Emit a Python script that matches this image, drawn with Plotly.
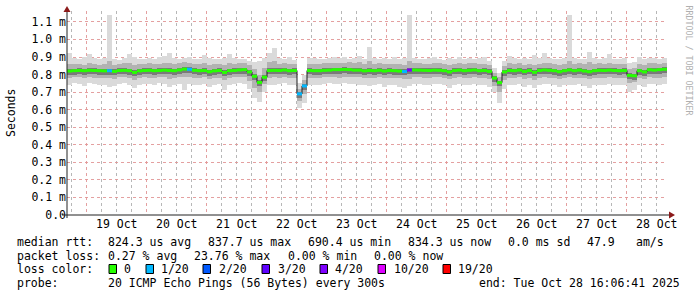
import numpy as np
import pandas as pd
import plotly.graph_objects as go

# ---------------- data (2-hour bins, values in ms) ----------------
end_time = pd.Timestamp("2025-10-28 16:06:41")
start_time = end_time - pd.Timedelta(days=10)

median_ms = [
    0.820, 0.822, 0.823, 0.822, 0.824, 0.823, 0.822, 0.821, 0.822, 0.818,
    0.823, 0.824, 0.822, 0.812, 0.821, 0.823, 0.824, 0.822, 0.823, 0.825,
    0.823, 0.822, 0.826, 0.831, 0.830, 0.824, 0.822, 0.823, 0.816, 0.821,
    0.823, 0.812, 0.822, 0.823, 0.826, 0.828, 0.815, 0.790, 0.755, 0.785,
    0.823, 0.824, 0.823, 0.826, 0.822, 0.823, 0.690, 0.735, 0.823, 0.822,
    0.822, 0.824, 0.825, 0.828, 0.828, 0.829, 0.828, 0.825, 0.825, 0.821,
    0.823, 0.822, 0.824, 0.820, 0.823, 0.822, 0.820, 0.817, 0.826, 0.826,
    0.825, 0.824, 0.823, 0.825, 0.824, 0.822, 0.815, 0.823, 0.825, 0.822,
    0.824, 0.826, 0.822, 0.823, 0.818, 0.780, 0.754, 0.815, 0.823, 0.822,
    0.825, 0.817, 0.823, 0.813, 0.823, 0.826, 0.824, 0.822, 0.816, 0.822,
    0.826, 0.822, 0.825, 0.820, 0.816, 0.822, 0.824, 0.823, 0.825, 0.823,
    0.822, 0.823, 0.795, 0.793, 0.822, 0.815, 0.827, 0.825, 0.828, 0.830,
]

smoke_max = [
    0.920, 0.895, 0.890, 0.900, 0.915, 0.892, 0.888, 0.895, 1.140, 0.890,
    0.885, 0.893, 0.918, 0.900, 0.890, 0.886, 0.895, 0.890, 0.898, 0.905,
    0.925, 0.895, 0.888, 0.892, 0.900, 0.890, 0.887, 0.910, 0.895, 0.890,
    0.888, 0.893, 0.918, 0.895, 0.890, 0.888, 0.880, 0.870, 0.875, 0.895,
    0.920, 0.950, 0.895, 0.890, 0.898, 0.885, 0.750, 0.800, 0.893, 0.895,
    0.890, 0.888, 0.897, 0.900, 0.892, 0.898, 0.890, 0.895, 0.905, 0.890,
    0.955, 0.892, 0.888, 0.895, 0.890, 0.900, 0.887, 0.893, 1.140, 0.895,
    0.890, 0.888, 0.895, 0.902, 0.890, 0.885, 0.893, 0.890, 0.898, 0.888,
    0.895, 0.890, 0.893, 0.900, 0.880, 0.840, 0.810, 0.875, 0.905, 0.892,
    0.890, 0.895, 0.888, 0.910, 0.892, 0.920, 0.895, 0.890, 0.888, 0.893,
    1.140, 0.895, 0.890, 0.888, 0.930, 0.893, 0.890, 0.896, 0.915, 0.890,
    0.888, 0.895, 0.865, 0.870, 0.900, 0.890, 0.895, 0.892, 0.888, 0.893,
]

smoke_hi = [
    0.860, 0.858, 0.862, 0.857, 0.865, 0.860, 0.856, 0.861, 0.880, 0.855,
    0.860, 0.863, 0.866, 0.852, 0.858, 0.861, 0.864, 0.859, 0.862, 0.866,
    0.868, 0.860, 0.864, 0.870, 0.868, 0.862, 0.858, 0.863, 0.855, 0.860,
    0.862, 0.852, 0.864, 0.861, 0.866, 0.868, 0.852, 0.830, 0.800, 0.835,
    0.870, 0.880, 0.862, 0.865, 0.860, 0.862, 0.720, 0.770, 0.862, 0.860,
    0.858, 0.863, 0.866, 0.868, 0.865, 0.867, 0.869, 0.866, 0.870, 0.862,
    0.875, 0.860, 0.863, 0.858, 0.862, 0.860, 0.858, 0.856, 0.880, 0.866,
    0.864, 0.862, 0.861, 0.866, 0.863, 0.860, 0.855, 0.862, 0.865, 0.860,
    0.863, 0.866, 0.860, 0.862, 0.855, 0.810, 0.785, 0.850, 0.863, 0.860,
    0.864, 0.856, 0.862, 0.852, 0.861, 0.868, 0.864, 0.860, 0.855, 0.861,
    0.880, 0.862, 0.865, 0.858, 0.870, 0.861, 0.863, 0.862, 0.866, 0.861,
    0.860, 0.862, 0.832, 0.835, 0.860, 0.856, 0.866, 0.864, 0.860, 0.866,
]

smoke_lo = [
    0.782, 0.786, 0.784, 0.780, 0.785, 0.783, 0.781, 0.779, 0.778, 0.776,
    0.784, 0.786, 0.782, 0.770, 0.780, 0.785, 0.783, 0.781, 0.786, 0.784,
    0.775, 0.780, 0.785, 0.788, 0.786, 0.782, 0.780, 0.784, 0.774, 0.780,
    0.783, 0.770, 0.781, 0.784, 0.786, 0.788, 0.765, 0.725, 0.700, 0.745,
    0.780, 0.784, 0.783, 0.786, 0.781, 0.783, 0.650, 0.690, 0.782, 0.780,
    0.781, 0.784, 0.786, 0.785, 0.783, 0.786, 0.787, 0.785, 0.784, 0.782,
    0.780, 0.781, 0.784, 0.778, 0.782, 0.779, 0.778, 0.772, 0.775, 0.786,
    0.785, 0.783, 0.782, 0.785, 0.784, 0.781, 0.772, 0.782, 0.784, 0.780,
    0.783, 0.786, 0.780, 0.782, 0.774, 0.735, 0.700, 0.770, 0.782, 0.780,
    0.784, 0.774, 0.781, 0.770, 0.782, 0.785, 0.783, 0.780, 0.773, 0.781,
    0.784, 0.780, 0.783, 0.778, 0.772, 0.780, 0.782, 0.781, 0.784, 0.782,
    0.780, 0.781, 0.752, 0.755, 0.780, 0.774, 0.785, 0.783, 0.780, 0.786,
]

smoke_min = [
    0.742, 0.750, 0.748, 0.735, 0.752, 0.745, 0.740, 0.738, 0.728, 0.735,
    0.748, 0.752, 0.740, 0.725, 0.738, 0.748, 0.745, 0.740, 0.750, 0.746,
    0.730, 0.740, 0.748, 0.712, 0.745, 0.742, 0.738, 0.746, 0.730, 0.740,
    0.745, 0.712, 0.740, 0.746, 0.750, 0.748, 0.720, 0.667, 0.645, 0.700,
    0.738, 0.742, 0.748, 0.750, 0.740, 0.742, 0.610, 0.640, 0.742, 0.738,
    0.740, 0.746, 0.752, 0.748, 0.744, 0.750, 0.748, 0.745, 0.742, 0.738,
    0.735, 0.740, 0.746, 0.730, 0.742, 0.738, 0.728, 0.722, 0.735, 0.748,
    0.745, 0.742, 0.738, 0.746, 0.744, 0.740, 0.725, 0.742, 0.745, 0.738,
    0.742, 0.748, 0.738, 0.740, 0.730, 0.700, 0.640, 0.720, 0.742, 0.738,
    0.745, 0.728, 0.740, 0.722, 0.742, 0.746, 0.744, 0.740, 0.730, 0.738,
    0.742, 0.738, 0.744, 0.735, 0.725, 0.738, 0.742, 0.740, 0.745, 0.742,
    0.738, 0.740, 0.700, 0.710, 0.738, 0.728, 0.746, 0.744, 0.738, 0.748,
]

# lost pings (out of 20) per bin
lost_pings = [0] * 120
for idx, n_lost in [(8, 1), (24, 1), (46, 1), (47, 1), (67, 1), (68, 4)]:
    lost_pings[idx] = n_lost

loss_labels = ["0", "1/20", "2/20", "3/20", "4/20", "10/20", "19/20"]
loss_levels = [0, 1, 2, 3, 4, 10, 19]
loss_colors = ["#26ff00", "#00b8ff", "#0059ff", "#5e00ff", "#7e00ff", "#dd00ff", "#ff0000"]

y_tick_vals = [0.0, 0.1, 0.2, 0.3, 0.4, 0.5, 0.6, 0.7, 0.8, 0.9, 1.0, 1.1]
y_tick_text = ["0.0", "0.1 m", "0.2 m", "0.3 m", "0.4 m", "0.5 m", "0.6 m",
               "0.7 m", "0.8 m", "0.9 m", "1.0 m", "1.1 m"]

# ---------------- geometry ----------------
W, H = 697, 297
L, R, T, B = 67, 30, 11, 82
PW, PH = W - L - R, H - T - B
BASE_Y = H - B


def px(x):
    return (x - L) / PW


def py(y):
    return (BASE_Y - y) / PH


FONT = "DejaVu Sans Mono"
FS = 11.5

n = len(median_ms)
bin_ms = 2 * 3600 * 1000
starts = pd.date_range(start_time, periods=n, freq="2h")
ends = starts + pd.Timedelta(hours=2)
centers = starts + pd.Timedelta(hours=1)

med = np.array(median_ms)
smax = np.array(smoke_max)
shi = np.array(smoke_hi)
slo = np.array(smoke_lo)
smin = np.array(smoke_min)


def loss_color(k):
    col = loss_colors[0]
    for lev, c in zip(loss_levels, loss_colors):
        if k >= lev:
            col = c
    return col


med_colors = [loss_color(k) for k in lost_pings]

fig = go.Figure()
fig.add_trace(go.Bar(x=centers, y=smax - smin, base=smin, width=bin_ms,
                     marker=dict(color="#dadada", line=dict(width=0)),
                     showlegend=False, hoverinfo="skip"))
fig.add_trace(go.Bar(x=centers, y=shi - slo, base=slo, width=bin_ms,
                     marker=dict(color="#b2b2b2", line=dict(width=0)),
                     showlegend=False, hoverinfo="skip"))
fig.add_trace(go.Bar(x=centers, y=np.full(n, 0.034), base=med - 0.022, width=bin_ms,
                     marker=dict(color="#7a7a7a", line=dict(width=0)),
                     showlegend=False, hoverinfo="skip"))
# dark stepped median (gives the vertical transitions)
fig.add_trace(go.Scatter(x=list(starts) + [end_time], y=list(med) + [med[-1]],
                         mode="lines", line=dict(color="#1e1e1e", width=1, shape="hv"),
                         showlegend=False, hoverinfo="skip"))
# median segments coloured by packet loss
for col in loss_colors:
    xs, ys = [], []
    for i in range(n):
        if med_colors[i] == col:
            xs += [starts[i], ends[i], None]
            ys += [med[i], med[i], None]
    if xs:
        fig.add_trace(go.Scatter(x=xs, y=ys, mode="lines",
                                 line=dict(color=col, width=3),
                                 showlegend=False, hoverinfo="skip", connectgaps=False))

grid_major = "rgba(225,150,150,0.9)"
grid_minor = "rgba(175,175,175,0.9)"

fig.update_layout(
    width=W, height=H,
    margin=dict(l=L, r=R, t=T, b=B, pad=0),
    paper_bgcolor="white", plot_bgcolor="white",
    barmode="overlay", bargap=0,
    font=dict(family=FONT, size=FS, color="black"),
    showlegend=False,
    xaxis=dict(
        type="date", range=[start_time, end_time],
        tick0="2025-10-19 00:00:00", dtick=86400000,
        tickformat="%d %b", ticklabelmode="period",
        showgrid=True, gridcolor=grid_major, griddash="dot", gridwidth=1,
        minor=dict(dtick=6 * 3600000, tick0="2025-10-19 00:00:00", showgrid=True,
                   gridcolor=grid_minor, griddash="dot", gridwidth=1),
        showline=False, zeroline=False, ticks="",
        tickfont=dict(family=FONT, size=FS),
    ),
    yaxis=dict(
        range=[0, 1.162], tickvals=y_tick_vals, ticktext=y_tick_text,
        showgrid=True, gridcolor=grid_major, griddash="dot", gridwidth=1,
        showline=False, zeroline=False, ticks="",
        tickfont=dict(family=FONT, size=FS),
    ),
)

axis_col = "#222222"
arrow_col = "#8b1a1a"
shapes = [
    dict(type="line", xref="paper", yref="paper", x0=0, x1=0, y0=py(218), y1=py(10),
         line=dict(color=axis_col, width=1)),
    dict(type="line", xref="paper", yref="paper", x0=px(62), x1=px(670), y0=0, y1=0,
         line=dict(color=axis_col, width=1)),
    dict(type="path", xref="paper", yref="paper",
         path=f"M {px(67)} {py(6)} L {px(63.5)} {py(12)} L {px(70.5)} {py(12)} Z",
         fillcolor=arrow_col, line=dict(color=arrow_col, width=0)),
    dict(type="path", xref="paper", yref="paper",
         path=f"M {px(675)} {py(215)} L {px(669)} {py(211.5)} L {px(669)} {py(218.5)} Z",
         fillcolor=arrow_col, line=dict(color=arrow_col, width=0)),
]

annotations = []


def add_text(x, y, text, size=FS, color="black", **kw):
    annotations.append(dict(
        xref="paper", yref="paper", x=px(x), y=py(y), xanchor="left", yanchor="middle",
        text=text.replace(" ", "\u00a0"), showarrow=False,
        font=dict(family=FONT, size=size, color=color), borderpad=0, **kw))


# line 1
y1 = 241.5
for x, t in [(16, "median rtt:"), (107, "824.3 us avg"), (206.7, "837.7 us max"),
             (306.7, "690.4 us min"), (406.7, "834.3 us now"), (506.7, "0.0 ms sd"),
             (586, "47.9"), (635, "am/s")]:
    add_text(x, y1, t)
# line 2
y2 = 255.5
for x, t in [(16, "packet loss:"), (107, "0.27 % avg"), (193.3, "23.76 % max"),
             (286.7, "0.00 % min"), (372.7, "0.00 % now")]:
    add_text(x, y2, t)
# line 3 : loss colours
y3 = 269.2
add_text(16, y3, "loss color:")
sq_x = [109, 146, 203, 262, 320, 378, 443]
lb_x = [123, 160, 218, 277, 334, 393, 457]
for sx, lx, lab, col in zip(sq_x, lb_x, loss_labels, loss_colors):
    shapes.append(dict(type="rect", xref="paper", yref="paper",
                       x0=px(sx), x1=px(sx + 7.5), y0=py(273.5), y1=py(264.5),
                       fillcolor=col, line=dict(color="black", width=1)))
    add_text(lx, y3, lab)
# line 4
y4 = 283.2
add_text(16, y4, "probe:")
add_text(107, y4, "20 ICMP Echo Pings (56 Bytes) every 300s")
add_text(478, y4, "end: Tue Oct 28 16:06:41 2025")

# y axis title
annotations.append(dict(xref="paper", yref="paper", x=px(11), y=py(113),
                        xanchor="center", yanchor="middle", text="Seconds",
                        textangle=-90, showarrow=False,
                        font=dict(family=FONT, size=FS, color="black")))
# watermark
annotations.append(dict(xref="paper", yref="paper", x=px(688.5), y=py(60),
                        xanchor="center", yanchor="middle",
                        text="RRDTOOL\u00a0/\u00a0TOBI\u00a0OETIKER",
                        textangle=90, showarrow=False,
                        font=dict(family=FONT, size=8.3, color="#b0b0b0")))

fig.update_layout(shapes=shapes, annotations=annotations)

fig.write_html("out.html")
